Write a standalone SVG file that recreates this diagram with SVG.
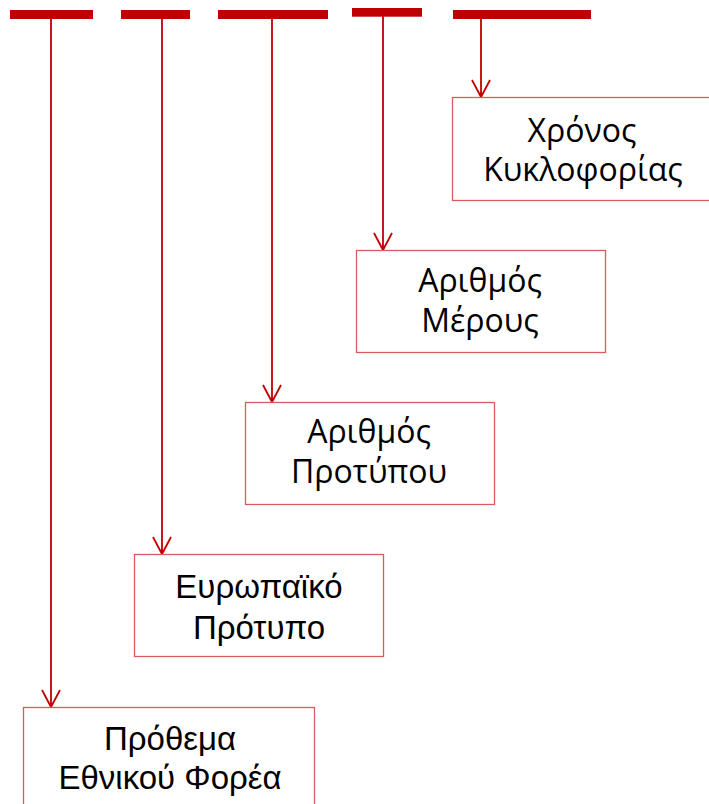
<svg xmlns="http://www.w3.org/2000/svg" width="709" height="804" viewBox="0 0 709 804">
<style>
.bar{fill:#C00000}
.box{fill:#FFFFFF;stroke:#DC5A5A;stroke-width:1.3}
.c{stroke:#C00000;stroke-width:1.8;fill:none}
.t{font-family:"Liberation Sans",Arial,sans-serif;font-size:33px;fill:#000;text-anchor:middle}
.s{font-family:"Open Sans","Liberation Sans",sans-serif;font-size:32px;fill:#000;text-anchor:middle}
</style>
<rect width="709" height="804" fill="#FFFFFF"/>
<g id="bars">
<rect class="bar" x="10" y="10" width="83" height="9"/>
<rect class="bar" x="121" y="10" width="69" height="9"/>
<rect class="bar" x="218" y="10" width="110" height="9"/>
<rect class="bar" x="352" y="8" width="70" height="8.7"/>
<rect class="bar" x="453" y="10" width="138" height="9"/>
</g>
<g id="connectors">
<path class="c" d="M51 19 V707 M42 690 L51 707 L60 690"/>
<path class="c" d="M162 19 V554 M153 537 L162 554 L171 537"/>
<path class="c" d="M272 19 V402 M263 385 L272 402 L281 385"/>
<path class="c" d="M383 16 V250 M374 233 L383 250 L392 233"/>
<path class="c" d="M481 19 V97 M472 80 L481 97 L490 80"/>
</g>
<g id="n1">
<rect class="box" x="452.5" y="97.5" width="260" height="103"/>
<text class="s" x="582" y="142">Χρόνος</text>
<text class="s" x="583" y="181">Κυκλοφορίας</text>
</g>
<g id="n2">
<rect class="box" x="356.5" y="250.5" width="249" height="102"/>
<text class="s" x="480" y="292">Αριθμός</text>
<text class="s" x="480" y="332">Μέρους</text>
</g>
<g id="n3">
<rect class="box" x="245.5" y="402.5" width="249" height="102"/>
<text class="s" x="369" y="443">Αριθμός</text>
<text class="s" x="369" y="483">Προτύπου</text>
</g>
<g id="n4">
<rect class="box" x="134.5" y="554.5" width="249" height="102"/>
<text class="t" x="259" y="598">Ευρωπαϊκό</text>
<text class="t" x="259" y="639">Πρότυπο</text>
</g>
<g id="n5">
<rect class="box" x="23.5" y="707.5" width="291" height="110"/>
<text class="t" x="170" y="750">Πρόθεμα</text>
<text class="t" x="170" y="789">Εθνικού Φορέα</text>
</g>
</svg>
